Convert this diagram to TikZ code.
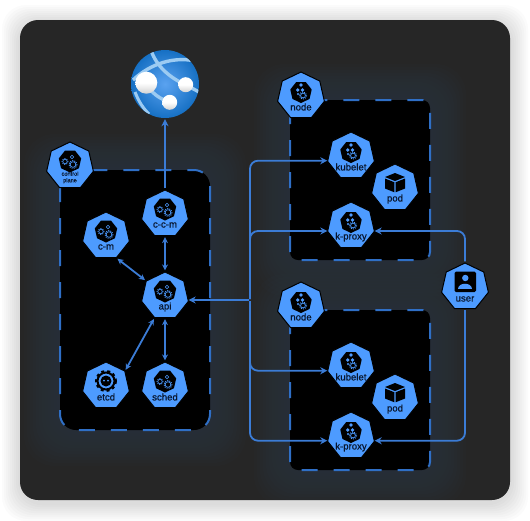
\documentclass[tikz,border=0pt]{standalone}
\usepackage{fontspec}
\setmainfont{Liberation Sans}
\newfontfamily\kubefont[FakeBold=0.6]{Liberation Sans}
\usetikzlibrary{arrows.meta,shapes.geometric}

\definecolor{panelgray}{HTML}{262626}
\definecolor{glowblue}{HTML}{3A5F94}
\definecolor{kubeblue}{HTML}{4D9BFF}
\definecolor{linkblue}{HTML}{3B7CD6}
\definecolor{dashblue}{HTML}{2F6FC6}
\definecolor{textnavy}{HTML}{08162E}
\definecolor{azureedge}{HTML}{1670C4}
\definecolor{azuremid}{HTML}{5AA2F0}
\definecolor{azurepale}{HTML}{9CCBF2}

\tikzset{
  kube/.style={regular polygon, regular polygon sides=7, minimum size=48pt, inner sep=0pt,
    fill=kubeblue, draw=black, line width=1pt},
  kubetext/.style={text=textnavy, font=\kubefont\fontsize{9.6}{10}\selectfont, inner sep=0pt},
  tinytext/.style={text=textnavy, font=\kubefont\fontsize{5.6}{6}\selectfont, inner sep=0pt},
  cluster/.style={fill=black, draw=dashblue, line width=2pt, dash pattern=on 16pt off 16pt},
  link/.style={draw=linkblue, line width=1.8pt, shorten <=1pt, shorten >=1pt,
    arrows={-{Stealth[length=7pt,width=7pt]}}},
  linkboth/.style={link, arrows={{Stealth[length=6pt,width=6pt]}-{Stealth[length=6pt,width=6pt]}}},
  cogs/.pic={
    \fill[black] (0,-5) +(90:11.5) -- +(141:11.5) -- +(193:11.5) -- +(244:11.5) -- +(296:11.5) -- +(347:11.5) -- +(39:11.5) -- cycle;
    \draw[kubeblue, line width=0.6pt] (2,-9) circle (1.8);
    \draw[kubeblue, line width=0.6pt] (-5,-4.5) circle (2.2);
    \draw[kubeblue, line width=0.7pt] (3,-1.5) circle (2.8);
    \draw[kubeblue, line width=0.9pt, dash pattern=on 1pt off 1.2pt] (3,-1.5) circle (4);
    \draw[kubeblue, line width=0.7pt, dash pattern=on 1pt off 1.2pt] (-5,-4.5) circle (3);
  },
  nodecogs/.pic={
    \fill[black] (0,-4) +(90:11) -- +(141:11) -- +(193:11) -- +(244:11) -- +(296:11) -- +(347:11) -- +(39:11) -- cycle;
    \fill[kubeblue] (0,-11) circle (1.9);
    \fill[kubeblue] (-3.3,-6) circle (1.9);
    \fill[kubeblue] (1.5,-6) circle (1.9);
    \draw[kubeblue, line width=0.7pt] (2,-0.5) circle (2.4);
    \draw[kubeblue, line width=0.9pt, dash pattern=on 1pt off 1.2pt] (2,-0.5) circle (3.6);
    \fill[kubeblue] (-3,-2) circle (1.2);
  },
  etcdgear/.pic={
    \draw[black, line width=2pt] (0,-5) circle (8.5);
    \draw[black, line width=2pt, dash pattern=on 3pt off 3pt] (0,-5) circle (10);
    \fill[black] (0,-5) circle (5.5);
    \fill[kubeblue] (-2,-5.5) circle (1);
    \fill[kubeblue] (2,-5.5) circle (1);
  },
  podcube/.pic={
    \fill[black] (0,-15) -- (10,-11) -- (0,-7) -- (-10,-11) -- cycle;
    \fill[black] (-10,-9.5) -- (-0.6,-5.7) -- (-0.6,4.3) -- (-10,0.5) -- cycle;
    \fill[black] (10,-9.5) -- (0.6,-5.7) -- (0.6,4.3) -- (10,0.5) -- cycle;
  },
  person/.pic={
    \fill[black, rounded corners=1.5pt] (-10.5,-15.5) rectangle (11,5);
    \fill[kubeblue] (0.3,-9) circle (3.2);
    \fill[kubeblue] (-6.7,2) .. controls (-6.7,-5) and (7.3,-5) .. (7.3,2) -- cycle;
  },
}

\begin{document}
\begin{tikzpicture}[x=1pt, y=-1pt]
  \useasboundingbox (0,0) rectangle (530,520);

  % panel with its soft shadow
  \foreach \grow in {18,16,...,2} {
    \fill[black, opacity=0.014, rounded corners=24pt] (20-\grow,20-\grow+3) rectangle (510+\grow,500+\grow+3);
  }
  \fill[panelgray, rounded corners=18pt] (20,20) rectangle (510,500);

  % glow round the clusters
  \begin{scope}
    \clip[rounded corners=18pt] (20,20) rectangle (510,500);
    \foreach \grow in {36,33,...,3} {
      \fill[glowblue, opacity=0.02, rounded corners=30pt] (60-\grow,170-\grow) rectangle (210+\grow,430+\grow);
      \fill[glowblue, opacity=0.02, rounded corners=30pt] (290-\grow,100-\grow) rectangle (430+\grow,260+\grow);
      \fill[glowblue, opacity=0.02, rounded corners=30pt] (290-\grow,310-\grow) rectangle (430+\grow,470+\grow);
    }
  \end{scope}

  % clusters
  \draw[cluster, rounded corners=16pt] (60,170) rectangle (210,430);
  \draw[cluster, rounded corners=8pt] (290,100) rectangle (430,260);
  \draw[cluster, rounded corners=8pt] (290,310) rectangle (430,470);

  % cloud
  \node[circle, minimum size=68pt, inner sep=0pt] (azure) at (165,84) {};
  \shade[inner color=azuremid, outer color=azureedge] (azure) circle (34);
  \begin{scope}
    \clip (azure) circle (34);
    \draw[azurepale, line width=3.4pt] (151,50) .. controls (156,66) and (170,78) .. (186,85) -- (201,93);
    \draw[azurepale, line width=3.4pt] (133,80) .. controls (150,64) and (175,55) .. (199,62);
    \draw[azurepale, line width=3.4pt] (146,83) .. controls (152,94) and (160,99) .. (170,102);
    \draw[azurepale, line width=3pt] (135,92) .. controls (139,102) and (143,108) .. (149,114);
  \end{scope}
  \shade[top color=white, bottom color=gray!35, middle color=white] (146.3,82.7) circle (11);
  \shade[top color=white, bottom color=gray!35, middle color=white] (185.7,84.7) circle (7.5);
  \shade[top color=white, bottom color=gray!35, middle color=white] (169.7,102.3) circle (7.5);

  % badges
  \node[kube] (control) at (70,166) {};
  \pic at (control) {cogs};
  \node[tinytext, align=center] (controltext) at ([yshift=-11.5pt]control.center) {control\\[0.6pt]plane};

  \node[kube] (ccm) at (165,214) {};
  \pic at (ccm) {cogs};
  \node[kubetext] (ccmtext) at ([yshift=-11pt]ccm.center) {c-c-m};

  \node[kube] (cm) at (106,236) {};
  \pic at (cm) {cogs};
  \node[kubetext] (cmtext) at ([yshift=-11pt]cm.center) {c-m};

  \node[kube] (api) at (165,296) {};
  \pic at (api) {cogs};
  \node[kubetext] (apitext) at ([yshift=-11pt]api.center) {api};

  \node[kube] (etcd) at (106,386) {};
  \pic at (etcd) {etcdgear};
  \node[kubetext] (etcdtext) at ([yshift=-11pt]etcd.center) {etcd};

  \node[kube] (sched) at (165,386) {};
  \pic at (sched) {cogs};
  \node[kubetext] (schedtext) at ([yshift=-11pt]sched.center) {sched};

  \node[kube] (nodea) at (301,96) {};
  \pic at (nodea) {nodecogs};
  \node[kubetext] (nodeatext) at ([yshift=-11pt]nodea.center) {node};

  \node[kube] (kubeleta) at (351,156) {};
  \pic at (kubeleta) {nodecogs};
  \node[kubetext] (kubeletatext) at ([yshift=-11pt]kubeleta.center) {kubelet};

  \node[kube] (poda) at (395,188) {};
  \pic at (poda) {podcube};
  \node[kubetext] (podatext) at ([yshift=-11pt]poda.center) {pod};

  \node[kube] (proxya) at (351,226) {};
  \pic at (proxya) {nodecogs};
  \node[kubetext] (proxyatext) at ([yshift=-11pt]proxya.center) {k-proxy};

  \node[kube] (nodeb) at (301,306) {};
  \pic at (nodeb) {nodecogs};
  \node[kubetext] (nodebtext) at ([yshift=-11pt]nodeb.center) {node};

  \node[kube] (kubeletb) at (351,366) {};
  \pic at (kubeletb) {nodecogs};
  \node[kubetext] (kubeletbtext) at ([yshift=-11pt]kubeletb.center) {kubelet};

  \node[kube] (podb) at (395,398) {};
  \pic at (podb) {podcube};
  \node[kubetext] (podbtext) at ([yshift=-11pt]podb.center) {pod};

  \node[kube] (proxyb) at (351,436) {};
  \pic at (proxyb) {nodecogs};
  \node[kubetext] (proxybtext) at ([yshift=-11pt]proxyb.center) {k-proxy};

  \node[kube] (user) at (465,287) {};
  \pic at (user) {person};
  \node[kubetext] (usertext) at ([yshift=-12pt]user.center) {user};

  % connectors
  \coordinate (hub) at (250,300);
  \draw[link] (ccm.north) -- (azure.south);
  \draw[linkboth] (ccm.south) -- (api.north);
  \draw[linkboth] (cm.corner 5) -- (api.corner 2);
  \draw[linkboth] (etcd.corner 7) -- (api.corner 4);
  \draw[linkboth] (api.south) -- (sched.north);
  \draw[link] (hub) -- (hub -| api.east);
  \draw[link, rounded corners=8pt] (hub) |- ([yshift=-4.7pt]kubeleta.west);
  \draw[link, rounded corners=8pt] (hub) |- ([yshift=-5pt]proxya.west);
  \draw[link, rounded corners=8pt] (hub) |- ([yshift=-4.7pt]kubeletb.west);
  \draw[link, rounded corners=8pt] (hub) |- ([yshift=-4.7pt]proxyb.west);
  \draw[link, rounded corners=8pt] (user.north) |- ([yshift=-5pt]proxya.east);
  \draw[link, rounded corners=8pt] (user.south) |- ([yshift=-4.7pt]proxyb.east);
\end{tikzpicture}
\end{document}
